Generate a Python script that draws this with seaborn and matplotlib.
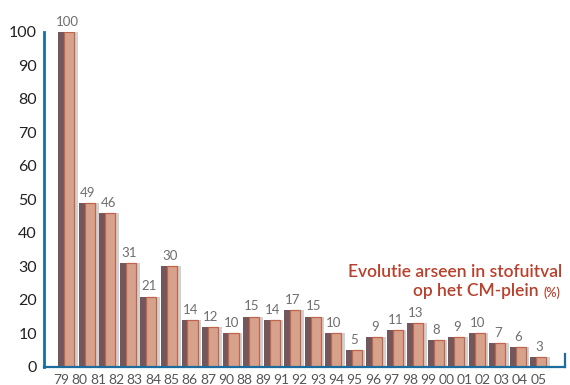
import numpy as np
import pandas as pd
import matplotlib.pyplot as plt
import seaborn as sns

# values (arsenic in dust fall, % of 1979)
values = [100, 49, 46, 31, 21, 30, 14, 12, 10, 15, 14, 17,
          15, 10, 5, 9, 11, 13, 8, 9, 10, 7, 6, 3]
# year labels printed under the axis (there are more of them than bars)
year_labels = ["79", "80", "81", "82", "83", "84", "85", "86", "87", "90",
               "88", "89", "91", "92", "93", "94", "95", "96", "97", "98",
               "99", "00", "01", "02", "03", "04", "05"]
y_ticks = list(range(0, 101, 10))

title_1 = "Evolutie arseen in stofuitval"
title_2 = "op het CM-plein "
title_unit = "(%)"

dark = "#74575a"
light = "#d7a28b"
edge = "#c0654c"
blue = "#1d6c9e"
red = "#b8402c"

df = pd.DataFrame({"bar": range(len(values)), "value": values})

sns.set_style("white")
plt.rcParams["font.family"] = ["Lato", "DejaVu Sans"]

fig = plt.figure(figsize=(5.7, 3.85), dpi=100)
ax = fig.add_axes([0.077, 0.047, 0.914, 0.87])

# shadow behind each bar
n0 = len(ax.patches)
sns.barplot(data=df, x="bar", y="value", width=0.5, color="#8c8c8c",
            saturation=1, alpha=0.4, ax=ax)
for p in ax.patches[n0:]:
    p.set_x(p.get_x() + 0.32)
    p.set_linewidth(0)

# dark side of the bar
n0 = len(ax.patches)
sns.barplot(data=df, x="bar", y="value", width=0.78, color=dark,
            saturation=1, ax=ax)
for p in ax.patches[n0:]:
    p.set_linewidth(0)

# light front face
n0 = len(ax.patches)
sns.barplot(data=df, x="bar", y="value", width=0.49, color=light,
            saturation=1, ax=ax)
front = ax.patches[n0:]
for p in front:
    p.set_x(p.get_x() + 0.145)
    p.set_edgecolor(edge)
    p.set_linewidth(0.9)

for p, v in zip(front, values):
    ax.annotate(str(v), (p.get_x() + p.get_width() / 2 - 0.1, v),
                xytext=(0, 3), textcoords="offset points",
                ha="center", va="bottom", fontsize=9.5, color="#6e6e6e")

ax.set_xlim(-1.1, 24.3)
ax.set_ylim(0, 100)
ax.set_yticks(y_ticks)
ax.set_xticks(np.linspace(-0.25, 23, len(year_labels)))
ax.set_xticklabels(year_labels, fontsize=10, color="#555555")
ax.tick_params(axis="x", length=0, pad=5)
ax.tick_params(axis="y", direction="in", length=9, width=2, color=blue,
               labelsize=11.5, labelcolor="#222222", pad=5)
ax.set_xlabel("")
ax.set_ylabel("")

ax.spines["top"].set_visible(False)
ax.spines["left"].set_color(blue)
ax.spines["left"].set_linewidth(2)
ax.spines["bottom"].set_color(blue)
ax.spines["bottom"].set_linewidth(1.6)
ax.spines["right"].set_color(blue)
ax.spines["right"].set_linewidth(1.6)
ax.spines["right"].set_bounds(0, 4)

unit = fig.text(0.983, 0.228, title_unit, ha="right", va="baseline",
                fontsize=9, color=red, fontweight="semibold")
ax.annotate(title_2, xy=(0, 0), xycoords=unit, ha="right", va="bottom",
            fontsize=12.5, color=red, fontweight="semibold",
            annotation_clip=False)
fig.text(0.986, 0.28, title_1, ha="right", va="baseline",
         fontsize=12.5, color=red, fontweight="semibold")

fig.savefig("out.png", dpi=100)
